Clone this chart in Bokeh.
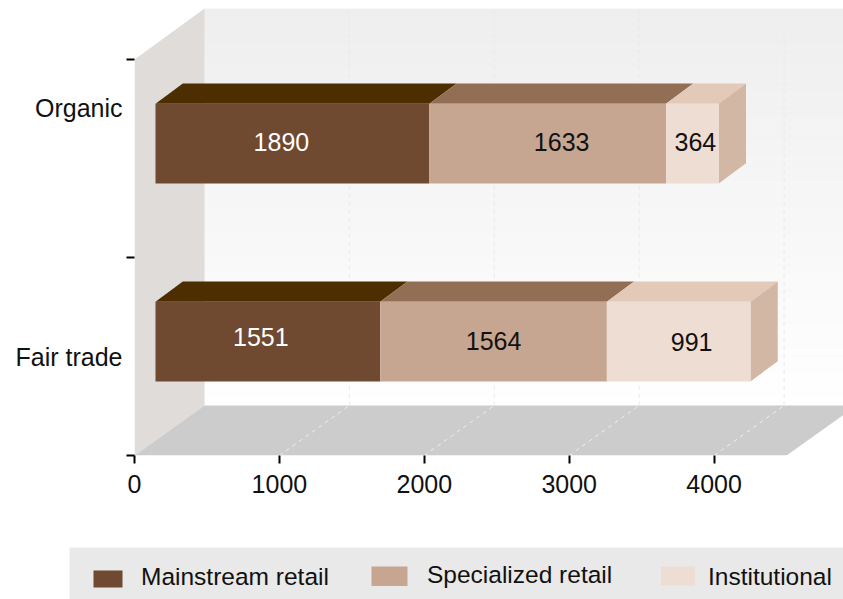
from bokeh.plotting import figure
from bokeh.layouts import column, row
from bokeh.models import Range1d, FixedTicker, ColumnDataSource, Spacer
from bokeh.core.properties import value
from bokeh.embed import file_html
from bokeh.resources import INLINE

categories = ["Fair trade", "Organic"]
series = ["Mainstream retail", "Specialized retail", "Institutional"]
mainstream = [1551, 1890]
specialized = [1564, 1633]
institutional = [991, 364]
x_ticks = [0, 1000, 2000, 3000, 4000]

# styles
FONT = "Liberation Sans"
SIZE = "25px"
LEG_SIZE = "24.5px"
front = ["#6f4930", "#c6a690", "#eeddd3"]
top = ["#4d2e00", "#926f54", "#e3c9b7"]
side = "#d2b7a4"
text_col = ["#ffffff", "#111111", "#111111"]
# layout in scale units (1000 units = 144.9 px, 1 y unit = 198 px)
PX = 1000 / 144.9
PY = 1 / 198
X_END = 709 * PX
Y_END = 447 * PY
WALL_DX, WALL_DY = 70 * PX, 50 * PY
BAR_DX, BAR_DY = 27.3 * PX, 20.3 * PY
BAR_X0 = 21 * PX
BAR_Y0 = 0.374
BAR_H = 0.402
AXIS_MAX = 4500
cat_label_y = [0.5, 1.755]
# label nudges in px per [category][series]
nudge_x = [[-7, 0, 13], [-11, 14, 3]]
nudge_y = [[-5, -1, 0], [-2, -2, -2]]

p = figure(width=843, height=547, output_backend="svg", toolbar_location=None,
           x_range=Range1d(0, X_END), y_range=Range1d(0, Y_END),
           min_border_left=134, min_border_right=0, min_border_top=8, min_border_bottom=92,
           outline_line_color=None, background_fill_color="#ffffff", border_fill_color="#ffffff")
p.grid.visible = False

# back wall gradient
bands = 48
bottoms = [WALL_DY + (Y_END - WALL_DY) * i / bands for i in range(bands)]
tops = [WALL_DY + (Y_END - WALL_DY) * (i + 1) / bands for i in range(bands)]
greys = [round(255 - (255 - 238) * (i + 0.5) / bands) for i in range(bands)]
cols = ["#%02x%02x%02x" % (g, g, g) for g in greys]
p.quad(left=WALL_DX, right=X_END + 100, bottom=bottoms, top=tops, fill_color=cols, line_color=cols, line_width=0.5)

# side wall + floor
p.patch([0, 0, WALL_DX, WALL_DX], [0, 2, Y_END, WALL_DY], fill_color="#e0dcd9", line_color=None)
p.patch([0, WALL_DX, AXIS_MAX + WALL_DX, AXIS_MAX], [0, WALL_DY, WALL_DY, 0], fill_color="#cccccc", line_color=None)

# grid lines
for t in x_ticks[1:]:
    p.line([t + WALL_DX, t + WALL_DX], [WALL_DY, Y_END], line_color="#e9e9e9", line_dash="4 4", line_width=1)
    p.line([t, t + WALL_DX], [0, WALL_DY], line_color="#eeeeee", line_dash="4 4", line_width=1)

# bars
rows = [mainstream, specialized, institutional]
lab_x, lab_y, lab_t, lab_c, lab_ox, lab_oy = [], [], [], [], [], []
for ci in range(len(categories)):
    y0 = BAR_Y0 + ci
    left = BAR_X0
    for si, vals in enumerate(rows):
        v = vals[ci]
        right = left + v
        p.patch([left, left + BAR_DX, right + BAR_DX, right],
                [y0 + BAR_H, y0 + BAR_H + BAR_DY, y0 + BAR_H + BAR_DY, y0 + BAR_H],
                fill_color=top[si], line_color=None)
        if si == len(rows) - 1:
            p.patch([right, right + BAR_DX, right + BAR_DX, right],
                    [y0, y0 + BAR_DY, y0 + BAR_H + BAR_DY, y0 + BAR_H],
                    fill_color=side, line_color=None)
        p.quad(left=left, right=right, bottom=y0, top=y0 + BAR_H, fill_color=front[si], line_color=None)
        lab_x.append((left + right) / 2)
        lab_y.append(y0 + BAR_H / 2)
        lab_t.append(str(v))
        lab_c.append(text_col[si])
        lab_ox.append(nudge_x[ci][si])
        lab_oy.append(nudge_y[ci][si])
        left = right

src = ColumnDataSource(dict(x=lab_x, y=lab_y, t=lab_t, c=lab_c, ox=lab_ox, oy=lab_oy))
p.text("x", "y", text="t", source=src, text_color="c", x_offset="ox", y_offset="oy",
       text_align="center", text_baseline="middle", text_font=value(FONT), text_font_size=SIZE)

# axes
ax = p.xaxis[0]
ax.ticker = FixedTicker(ticks=x_ticks)
ax.axis_line_color = None
ax.major_tick_in = 0
ax.major_tick_out = 8
ax.major_tick_line_color = "#000000"
ax.major_tick_line_width = 2
ax.minor_tick_line_color = None
ax.major_label_text_font = FONT
ax.major_label_text_font_size = SIZE
ax.major_label_text_color = "#111111"
ax.major_label_standoff = 11

ay = p.yaxis[0]
ay.ticker = FixedTicker(ticks=cat_label_y, minor_ticks=[0, 1, 2])
ay.major_label_overrides = {cat_label_y[i]: categories[i] for i in range(2)}
ay.axis_line_color = None
ay.major_tick_line_color = None
ay.major_tick_in = 0
ay.major_tick_out = 8
ay.minor_tick_in = 0
ay.minor_tick_out = 8
ay.minor_tick_line_color = "#000000"
ay.minor_tick_line_width = 2
ay.major_label_text_font = FONT
ay.major_label_text_font_size = SIZE
ay.major_label_text_color = "#111111"
ay.major_label_standoff = 4

# legend strip: data units equal strip pixels, measured from its lower left corner
leg_fig = figure(width=774, height=52, output_backend="svg", toolbar_location=None,
                 x_range=Range1d(0, 774), y_range=Range1d(0, 52),
                 x_axis_location=None, y_axis_location=None,
                 min_border_left=0, min_border_right=0, min_border_top=0, min_border_bottom=0,
                 outline_line_color=None, background_fill_color="#e9e9e9", border_fill_color="#e9e9e9")
leg_fig.grid.visible = False
sw_left = [24, 302, 591.5]
sw_right = [53, 338, 625.5]
sw_bottom = [12, 13.5, 14]
sw_top = [29, 33, 33]
text_left = [71.5, 357.5, 638.5]
text_mid = [23, 25.5, 23]
leg_fig.quad(left=sw_left, right=sw_right, bottom=sw_bottom, top=sw_top, fill_color=front, line_color=None)
leg_fig.text(text_left, text_mid, text=series, text_color="#111111", text_align="left", text_baseline="middle",
             text_font=value(FONT), text_font_size=LEG_SIZE)

layout = column(p, row(Spacer(width=69, height=52), leg_fig, spacing=0), spacing=0)
open("out.html", "w").write(file_html(layout, INLINE))
